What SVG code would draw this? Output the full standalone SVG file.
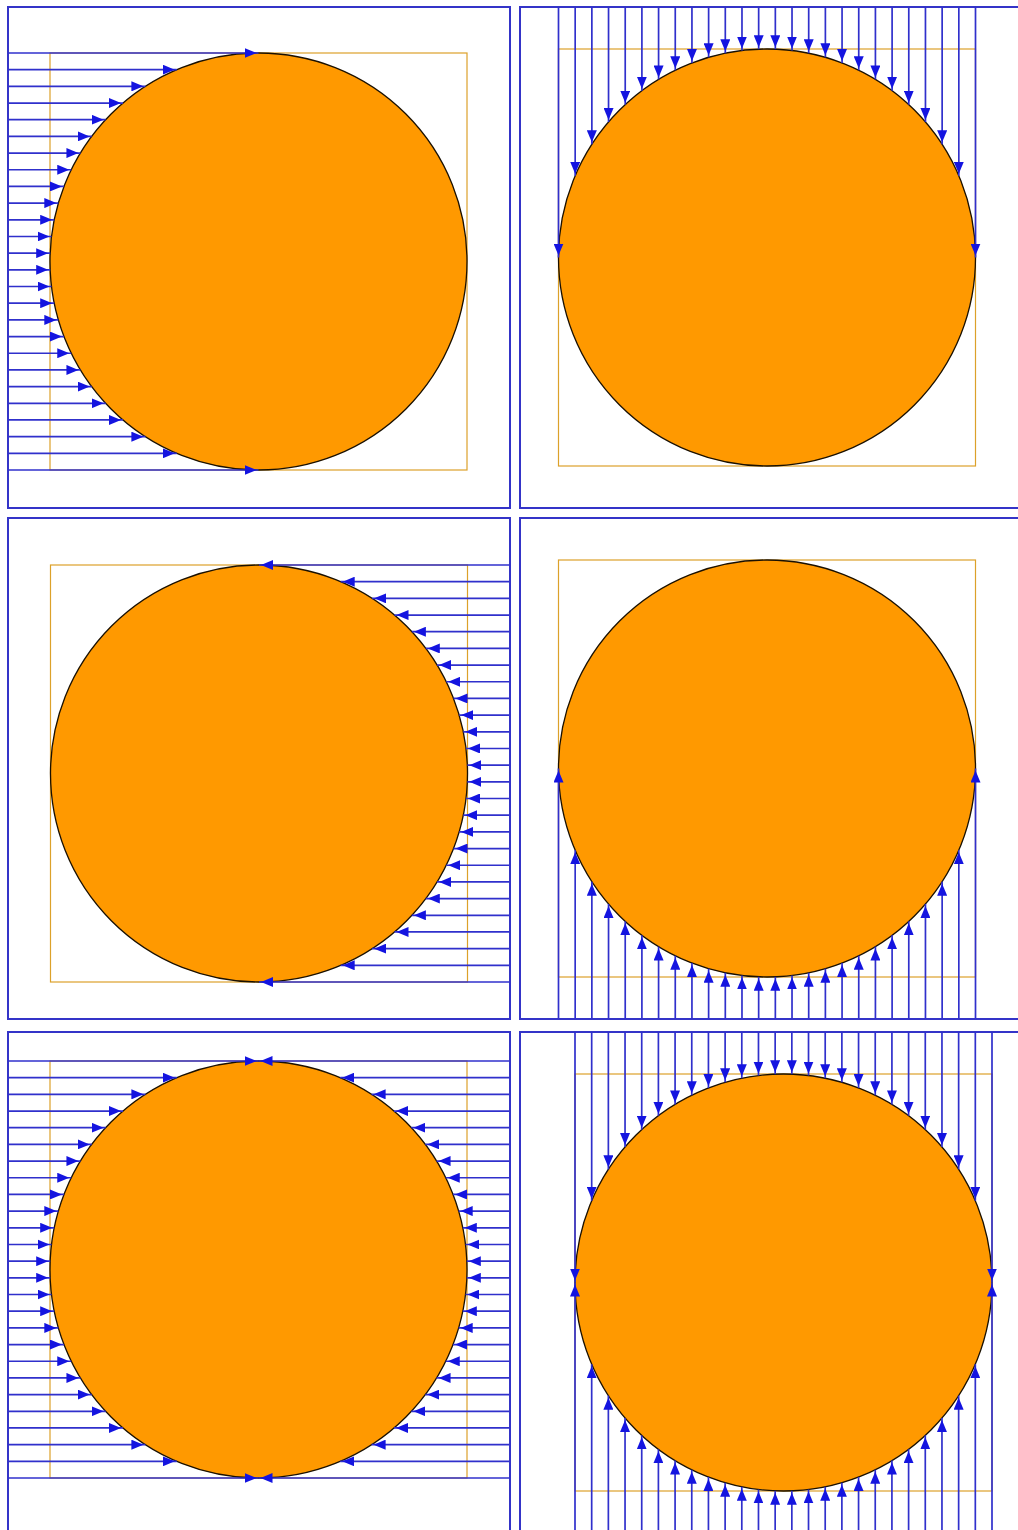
<svg xmlns="http://www.w3.org/2000/svg" xmlns:xlink="http://www.w3.org/1999/xlink" width="1018" height="1530" viewBox="0 0 1018 1530">
<style>
.border{fill:none;stroke:#3434c8;stroke-width:2}
.sq{fill:none;stroke:#dca12a;stroke-width:1.2}
.disc{fill:#ff9900;stroke:#1a1000;stroke-width:1.3}
.fan line{stroke:#3030cc;stroke-width:1.7;marker-end:url(#ah)}
</style>
<defs>
<marker id="ah" viewBox="0 0 15 10" refX="14" refY="5" markerWidth="15" markerHeight="10" markerUnits="userSpaceOnUse" orient="auto">
<path d="M0,0 L12,5 L0,10 z" fill="#1414e0"/>
</marker>
<g id="fan" class="fan">
<line x1="-250.5" y1="-208.5" x2="0" y2="-208.5"/>
<line x1="-250.5" y1="-191.82" x2="-81.71" y2="-191.82"/>
<line x1="-250.5" y1="-175.14" x2="-113.13" y2="-175.14"/>
<line x1="-250.5" y1="-158.46" x2="-135.51" y2="-158.46"/>
<line x1="-250.5" y1="-141.78" x2="-152.87" y2="-141.78"/>
<line x1="-250.5" y1="-125.1" x2="-166.8" y2="-125.1"/>
<line x1="-250.5" y1="-108.42" x2="-178.09" y2="-108.42"/>
<line x1="-250.5" y1="-91.74" x2="-187.23" y2="-91.74"/>
<line x1="-250.5" y1="-75.06" x2="-194.52" y2="-75.06"/>
<line x1="-250.5" y1="-58.38" x2="-200.16" y2="-58.38"/>
<line x1="-250.5" y1="-41.7" x2="-204.29" y2="-41.7"/>
<line x1="-250.5" y1="-25.02" x2="-206.99" y2="-25.02"/>
<line x1="-250.5" y1="-8.34" x2="-208.33" y2="-8.34"/>
<line x1="-250.5" y1="8.34" x2="-208.33" y2="8.34"/>
<line x1="-250.5" y1="25.02" x2="-206.99" y2="25.02"/>
<line x1="-250.5" y1="41.7" x2="-204.29" y2="41.7"/>
<line x1="-250.5" y1="58.38" x2="-200.16" y2="58.38"/>
<line x1="-250.5" y1="75.06" x2="-194.52" y2="75.06"/>
<line x1="-250.5" y1="91.74" x2="-187.23" y2="91.74"/>
<line x1="-250.5" y1="108.42" x2="-178.09" y2="108.42"/>
<line x1="-250.5" y1="125.1" x2="-166.8" y2="125.1"/>
<line x1="-250.5" y1="141.78" x2="-152.87" y2="141.78"/>
<line x1="-250.5" y1="158.46" x2="-135.51" y2="158.46"/>
<line x1="-250.5" y1="175.14" x2="-113.13" y2="175.14"/>
<line x1="-250.5" y1="191.82" x2="-81.71" y2="191.82"/>
<line x1="-250.5" y1="208.5" x2="0" y2="208.5"/>
</g>
<g id="body">
<rect class="sq" x="-208.5" y="-208.5" width="417" height="417"/>
<circle class="disc" cx="0" cy="0" r="208.5"/>
</g>
</defs>
<rect x="0" y="0" width="1018" height="1530" fill="#ffffff"/>
<g id="panel1">
<rect class="border" x="8" y="7" width="502" height="501"/>
<use xlink:href="#body" href="#body" transform="translate(258.5,261.5)"/>
</g>
<g id="panel2">
<rect class="border" x="520" y="7" width="502" height="501"/>
<use xlink:href="#body" href="#body" transform="translate(767,257.5)"/>
</g>
<g id="panel3">
<rect class="border" x="8" y="518" width="502" height="501"/>
<use xlink:href="#body" href="#body" transform="translate(259,773.5)"/>
</g>
<g id="panel4">
<rect class="border" x="520" y="518" width="502" height="501"/>
<use xlink:href="#body" href="#body" transform="translate(767,768.5)"/>
</g>
<g id="panel5">
<rect class="border" x="8" y="1032" width="502" height="501"/>
<use xlink:href="#body" href="#body" transform="translate(258.5,1269.5)"/>
</g>
<g id="panel6">
<rect class="border" x="520" y="1032" width="502" height="501"/>
<use xlink:href="#body" href="#body" transform="translate(783.5,1282.5)"/>
</g>
<g id="connectors">
<use xlink:href="#fan" href="#fan" transform="translate(258.5,261.5)"/>
<use xlink:href="#fan" href="#fan" transform="translate(767,257.5) rotate(90)"/>
<use xlink:href="#fan" href="#fan" transform="translate(259,773.5) rotate(180)"/>
<use xlink:href="#fan" href="#fan" transform="translate(767,768.5) rotate(-90)"/>
<use xlink:href="#fan" href="#fan" transform="translate(258.5,1269.5)"/>
<use xlink:href="#fan" href="#fan" transform="translate(258.5,1269.5) rotate(180)"/>
<use xlink:href="#fan" href="#fan" transform="translate(783.5,1282.5) rotate(90)"/>
<use xlink:href="#fan" href="#fan" transform="translate(783.5,1282.5) rotate(-90)"/>
</g>
</svg>
